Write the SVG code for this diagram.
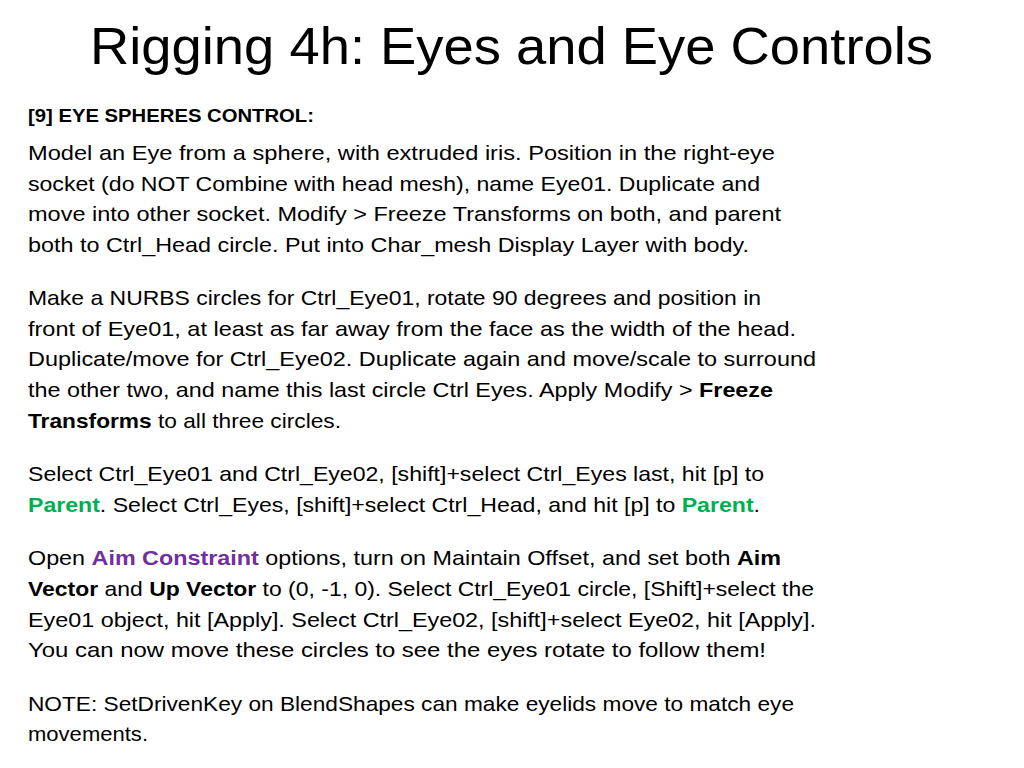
<svg xmlns="http://www.w3.org/2000/svg" width="1024" height="768" viewBox="0 0 1024 768">
<style>
text{font-family:"Liberation Sans","Open Sans",sans-serif;fill:#000}
.t{font-size:52px}
.b{font-size:21px}
.h{font-size:19px;font-weight:bold}
.B{font-weight:bold}
.g{fill:#00B050;font-weight:bold}
.p{fill:#7030A0;font-weight:bold}
</style>
<rect width="1024" height="768" fill="#fff"/>
<g id="title"><text class="t" x="90" y="64" textLength="843" lengthAdjust="spacingAndGlyphs">Rigging 4h: Eyes and Eye Controls</text></g>
<g id="body" class="b">
<text class="h" x="28" y="122" textLength="286" lengthAdjust="spacingAndGlyphs">[9] EYE SPHERES CONTROL:</text>
<text class="b" x="28" y="160" textLength="747" lengthAdjust="spacingAndGlyphs">Model an Eye from a sphere, with extruded iris. Position in the right-eye</text>
<text class="b" x="28" y="191" textLength="732" lengthAdjust="spacingAndGlyphs">socket (do NOT Combine with head mesh), name Eye01. Duplicate and</text>
<text class="b" x="28" y="221" textLength="753" lengthAdjust="spacingAndGlyphs">move into other socket. Modify &gt; Freeze Transforms on both, and parent</text>
<text class="b" x="28" y="252" textLength="721" lengthAdjust="spacingAndGlyphs">both to Ctrl_Head circle. Put into Char_mesh Display Layer with body.</text>
<text class="b" x="28" y="305" textLength="733" lengthAdjust="spacingAndGlyphs">Make a NURBS circles for Ctrl_Eye01, rotate 90 degrees and position in</text>
<text class="b" x="28" y="336" textLength="768" lengthAdjust="spacingAndGlyphs">front of Eye01, at least as far away from the face as the width of the head.</text>
<text class="b" x="28" y="366" textLength="788" lengthAdjust="spacingAndGlyphs">Duplicate/move for Ctrl_Eye02. Duplicate again and move/scale to surround</text>
<text class="b" x="28" y="397" textLength="745" lengthAdjust="spacingAndGlyphs">the other two, and name this last circle Ctrl Eyes. Apply Modify &gt; <tspan class="B">Freeze</tspan></text>
<text class="b" x="28" y="428" textLength="313" lengthAdjust="spacingAndGlyphs"><tspan class="B">Transforms</tspan> to all three circles.</text>
<text class="b" x="28" y="481" textLength="736" lengthAdjust="spacingAndGlyphs">Select Ctrl_Eye01 and Ctrl_Eye02, [shift]+select Ctrl_Eyes last, hit [p] to</text>
<text class="b" x="28" y="512" textLength="732" lengthAdjust="spacingAndGlyphs"><tspan class="g">Parent</tspan>. Select Ctrl_Eyes, [shift]+select Ctrl_Head, and hit [p] to <tspan class="g">Parent</tspan>.</text>
<text class="b" x="28" y="565" textLength="753" lengthAdjust="spacingAndGlyphs">Open <tspan class="p">Aim Constraint</tspan> options, turn on Maintain Offset, and set both <tspan class="B">Aim</tspan></text>
<text class="b" x="28" y="596" textLength="786" lengthAdjust="spacingAndGlyphs"><tspan class="B">Vector</tspan> and <tspan class="B">Up Vector</tspan> to (0, -1, 0). Select Ctrl_Eye01 circle, [Shift]+select the</text>
<text class="b" x="28" y="627" textLength="788" lengthAdjust="spacingAndGlyphs">Eye01 object, hit [Apply]. Select Ctrl_Eye02, [shift]+select Eye02, hit [Apply].</text>
<text class="b" x="28" y="657" textLength="738" lengthAdjust="spacingAndGlyphs">You can now move these circles to see the eyes rotate to follow them!</text>
<text class="b" x="28" y="711" textLength="766" lengthAdjust="spacingAndGlyphs">NOTE: SetDrivenKey on BlendShapes can make eyelids move to match eye</text>
<text class="b" x="28" y="741" textLength="120" lengthAdjust="spacingAndGlyphs">movements.</text>
</g>
</svg>
